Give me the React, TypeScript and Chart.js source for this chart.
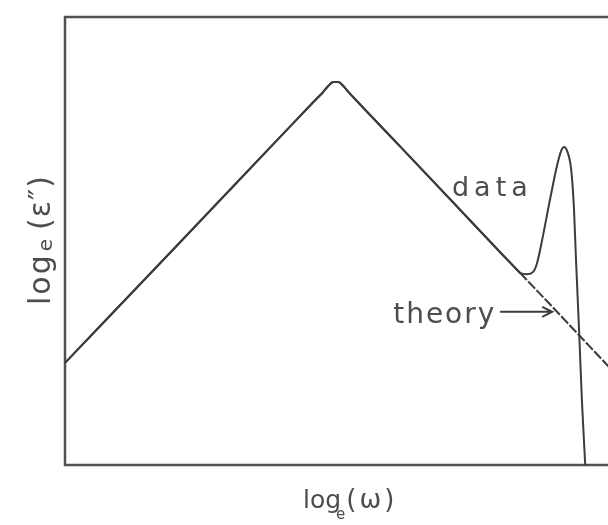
import React, { useEffect, useRef } from "react";
import { Chart, registerables } from "chart.js";

Chart.register(...registerables);

// log_e(ω) positions and log_e(ε″) values (arbitrary units, 0–100 on both axes)
const theoryX = [0, 20, 40, 44.8, 46.0, 47.0, 47.9, 48.8, 49.7, 50.6, 51.7, 60, 70, 78, 81.25, 100];
const theoryY = [22.8, 49.0, 75.3, 81.6, 83.1, 84.6, 85.5, 85.5, 84.6, 83.3, 81.8, 70.9, 57.7, 47.1, 42.9, 18.1];

const dataX = [
  0, 20, 40, 44.8, 46.0, 47.0, 47.9, 48.8, 49.7, 50.6, 51.7, 60, 70, 78, 80, 81.25,
  82.5, 83.6, 84.3, 85.2, 86.6, 87.9, 88.6, 89.1, 89.6, 90.4, 90.9, 91.25, 91.8,
  92.3, 92.9,
];
const dataY = [
  22.8, 49.0, 75.3, 81.6, 83.1, 84.6, 85.5, 85.5, 84.6, 83.3, 81.8, 70.9, 57.7, 47.1,
  44.5, 42.9, 42.6, 43.1, 45.1, 50.2, 59.2, 67.0, 70.1, 71.0, 70.3, 65.8, 56.9,
  45.8, 30.1, 14.5, 0,
];

const xRange = [0, 100];
const yRange = [0, 100];

const xTitle = ["log", "e", "(ω)"];
const yTitle = ["log", "e", "(ε″)"];
const dataLabel = "data";
const theoryLabel = "theory";

// where the measured curve leaves the theoretical line
const departureX = theoryX[theoryX.length - 2];

const INK = "#3c3c3c";
const TEXT = "#4d4d4d";
const FONT = '"DejaVu Sans", sans-serif';

type Part = { text: string; size: number; dy?: number; dx?: number; spacing?: number };

function drawParts(ctx: CanvasRenderingContext2D, parts: Part[], x: number, y: number) {
  let cx = x;
  for (const p of parts) {
    ctx.font = `${p.size}px ${FONT}`;
    (ctx as any).letterSpacing = `${p.spacing ?? 0}px`;
    cx += p.dx ?? 0;
    ctx.fillText(p.text, cx, y + (p.dy ?? 0));
    cx += ctx.measureText(p.text).width;
  }
  (ctx as any).letterSpacing = "0px";
}

const decorations = {
  id: "decorations",
  beforeDatasetsDraw(chart: any) {
    const { ctx, chartArea } = chart;
    const { left, top, right, bottom } = chartArea;
    ctx.save();
    ctx.strokeStyle = "#505050";
    ctx.lineWidth = 2.5;
    ctx.strokeRect(left, top, right - left, bottom - top);
    ctx.restore();
  },
  afterDatasetsDraw(chart: any) {
    const { ctx, chartArea, scales } = chart;
    const sx = scales.x;
    const sy = scales.y;
    ctx.save();
    ctx.fillStyle = TEXT;
    ctx.textBaseline = "alphabetic";
    ctx.textAlign = "left";

    // curve labels
    ctx.font = `27px ${FONT}`;
    (ctx as any).letterSpacing = "5px";
    ctx.fillText(dataLabel, sx.getPixelForValue(69.1), sy.getPixelForValue(60.0));
    (ctx as any).letterSpacing = "2px";
    ctx.font = `28px ${FONT}`;
    ctx.fillText(theoryLabel, sx.getPixelForValue(58.6), sy.getPixelForValue(31.7));
    (ctx as any).letterSpacing = "0px";

    // arrow pointing at the theory line
    const ax0 = sx.getPixelForValue(77.7);
    const ax1 = sx.getPixelForValue(87.0);
    const ay = sy.getPixelForValue(34.2);
    ctx.strokeStyle = INK;
    ctx.lineWidth = 2;
    ctx.beginPath();
    ctx.moveTo(ax0, ay);
    ctx.lineTo(ax1, ay);
    ctx.moveTo(ax1 - 10, ay - 5);
    ctx.lineTo(ax1, ay);
    ctx.lineTo(ax1 - 10, ay + 5);
    ctx.stroke();

    // x axis title
    drawParts(
      ctx,
      [
        { text: xTitle[0], size: 25 },
        { text: xTitle[1], size: 15, dy: 11, dx: -5 },
        { text: xTitle[2], size: 26, spacing: 3, dx: 1 },
      ],
      chartArea.left + 238,
      chartArea.bottom + 43
    );

    // y axis title (rotated)
    ctx.translate(50, chartArea.top + 288);
    ctx.rotate(-Math.PI / 2);
    drawParts(
      ctx,
      [
        { text: yTitle[0], size: 30, spacing: 2 },
        { text: yTitle[1], size: 20, dy: 2, dx: 2 },
        { text: yTitle[2], size: 30, dx: 9, spacing: 1 },
      ],
      0,
      0
    );
    ctx.restore();
  },
};

export default function App() {
  const canvasRef = useRef<HTMLCanvasElement | null>(null);

  useEffect(() => {
    if (!canvasRef.current) return;
    const chart = new Chart(canvasRef.current, {
      type: "line",
      data: {
        datasets: [
          {
            label: "theory",
            data: theoryX.map((x, i) => ({ x, y: theoryY[i] })),
            borderColor: INK,
            borderWidth: 2,
            pointRadius: 0,
            cubicInterpolationMode: "monotone",
            segment: {
              borderDash: (c: any) => (c.p0.parsed.x >= departureX ? [10, 2] : undefined),
            },
          },
          {
            label: "data",
            data: dataX.map((x, i) => ({ x, y: dataY[i] })),
            borderColor: INK,
            borderWidth: 2,
            pointRadius: 0,
            cubicInterpolationMode: "monotone",
          },
        ],
      },
      options: {
        animation: false,
        responsive: true,
        maintainAspectRatio: false,
        layout: { padding: { left: 65, top: 17, right: 15, bottom: 60 } },
        plugins: { legend: { display: false }, tooltip: { enabled: false } },
        scales: {
          x: { type: "linear", min: xRange[0], max: xRange[1], display: false },
          y: { type: "linear", min: yRange[0], max: yRange[1], display: false },
        },
      },
      plugins: [decorations],
    });
    return () => chart.destroy();
  }, []);

  return (
    <div
      style={{
        position: "absolute",
        left: 0,
        top: 0,
        width: 608,
        height: 525,
        overflow: "hidden",
        background: "#fff",
      }}
    >
      <div style={{ position: "relative", width: 640, height: 525 }}>
        <canvas ref={canvasRef} />
      </div>
    </div>
  );
}
